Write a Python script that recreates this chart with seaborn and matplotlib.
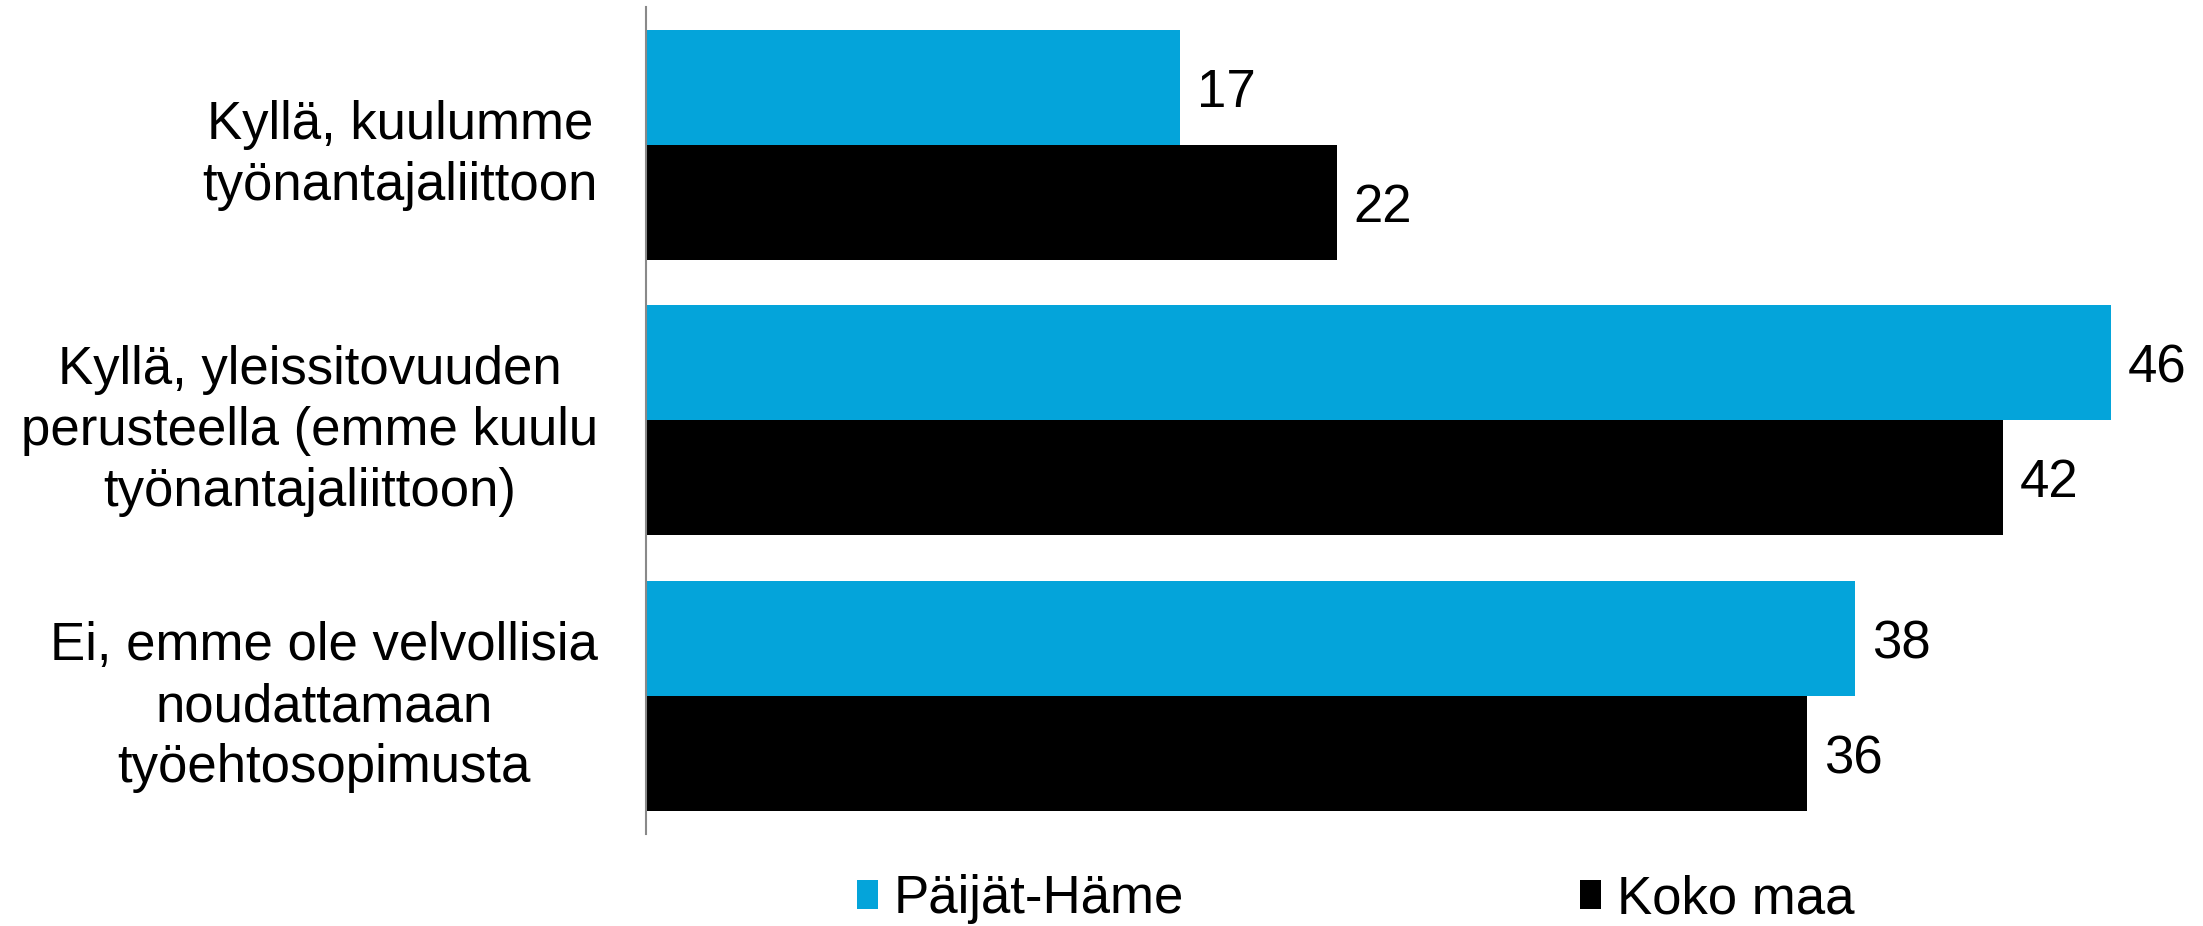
import pandas as pd
import matplotlib.pyplot as plt
import seaborn as sns

# survey answers (percent), labels shown rounded
categories = [
    'Kyllä, kuulumme\ntyönantajaliittoon',
    'Kyllä, yleissitovuuden\nperusteella (emme kuulu\ntyönantajaliittoon)',
    'Ei, emme ole velvollisia\nnoudattamaan\ntyöehtosopimusta',
]
series_names = ['Päijät-Häme', 'Koko maa']
paijat_hame = [16.7, 45.8, 37.8]
koko_maa = [21.6, 42.4, 36.3]
colors = ['#04A4DA', '#000000']

df = pd.DataFrame({
    'Vastaus': categories * 2,
    'Alue': [series_names[0]] * len(categories) + [series_names[1]] * len(categories),
    'Osuus': paijat_hame + koko_maa,
})

sns.set_style('white')
plt.rcParams['font.family'] = ['Liberation Sans', 'DejaVu Sans']
plt.rcParams['text.color'] = 'black'
plt.rcParams['ytick.color'] = 'black'

FS = 38

fig = plt.figure(figsize=(22.03, 9.26), dpi=100)
ax = fig.add_axes([0.2932, 0.0994, 0.6972, 0.8931])

sns.barplot(data=df, x='Osuus', y='Vastaus', hue='Alue', palette=colors,
            orient='h', width=0.834, saturation=1, linewidth=0, ax=ax)

for container in ax.containers:
    texts = ax.bar_label(container, fmt='%.0f', padding=12, fontsize=FS, color='black')
    for t in texts:
        t.set_va('center_baseline')

ax.set_xlim(0, 48)
ax.set_xticks([])
ax.set_xlabel('')
ax.set_ylabel('')
ax.tick_params(axis='y', length=0, pad=34.5, labelsize=FS, labelcolor='black')
for t in ax.get_yticklabels():
    t.set_multialignment('center')
    t.set_linespacing(1.28)

sns.despine(ax=ax, top=True, right=True, bottom=True)
ax.spines['left'].set_color('#898989')
ax.spines['left'].set_linewidth(1.5)

handles, labels = ax.get_legend_handles_labels()
ax.get_legend().remove()
fig.legend(handles, labels, loc='center left', bbox_to_anchor=(0.389, 0.029),
           ncol=2, frameon=False, fontsize=FS, handlelength=0.4, handleheight=0.47,
           handletextpad=0.3, columnspacing=7.5, borderpad=0, borderaxespad=0)

fig.savefig('out.png', dpi=100)
